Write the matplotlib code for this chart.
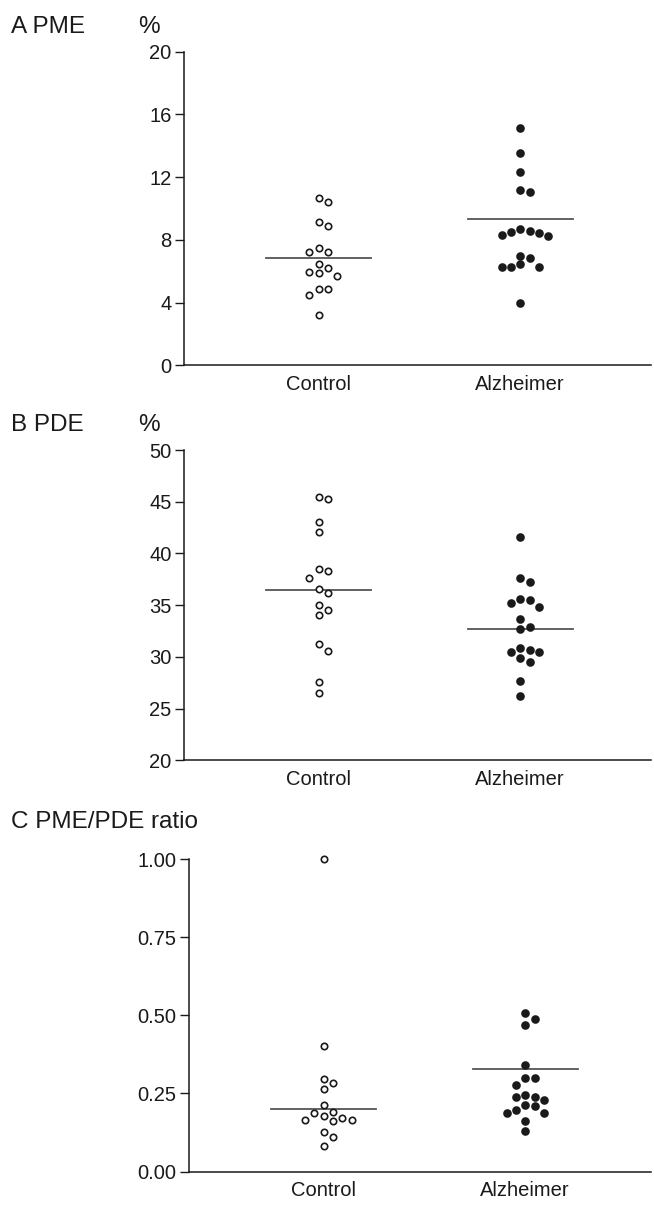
import matplotlib
import matplotlib.pyplot as plt

matplotlib.use('Agg')

plt.rcParams['font.family'] = ['Liberation Sans', 'DejaVu Sans']

groups = ["Control", "Alzheimer"]

# Panel A, PME (%)
pme_control = [10.66, 10.42, 9.17, 8.89, 7.47, 7.21, 7.21, 6.45, 6.19, 5.98,
               5.89, 5.68, 4.89, 4.89, 4.49, 3.21]
pme_alzheimer = [15.12, 13.55, 12.30, 11.21, 11.08, 8.68, 8.55, 8.49, 8.42,
                 8.34, 8.23, 7.00, 6.83, 6.45, 6.30, 6.30, 6.30, 4.00]
pme_lines = [6.85, 9.34]

# Panel B, PDE (%)
pde_control = [45.48, 45.26, 43.01, 42.10, 38.46, 38.27, 37.65, 36.56, 36.14,
               34.98, 34.56, 34.07, 31.27, 30.56, 27.6, 26.5]
pde_alzheimer = [41.59, 37.59, 37.27, 35.56, 35.46, 35.17, 34.85, 33.69, 32.92,
                 32.69, 30.82, 30.66, 30.43, 30.43, 29.85, 29.53, 27.63, 26.2]
pde_lines = [36.46, 32.69]

# Panel C, PME/PDE ratio
ratio_control = [1.00, 0.403, 0.296, 0.285, 0.263, 0.214, 0.192, 0.188, 0.178,
                 0.170, 0.165, 0.165, 0.162, 0.128, 0.112, 0.082]
ratio_alzheimer = [0.509, 0.488, 0.470, 0.340, 0.301, 0.301, 0.276, 0.246,
                   0.239, 0.239, 0.229, 0.213, 0.210, 0.197, 0.188, 0.188,
                   0.163, 0.130]
ratio_lines = [0.201, 0.3285]

W, H = 654, 1210
ink = '#1a1a1a'


def swarm_offsets(values, px_per_y, slot_px=9.3, min_gap_px=8.5):
    # greedy column placement, top value first
    order = sorted(range(len(values)), key=lambda i: -values[i])
    placed = {}
    offsets = [0] * len(values)
    for i in order:
        y = values[i] * px_per_y
        for k in [0, 1, -1, 2, -2, 3, -3]:
            if all(abs(y - other) >= min_gap_px for other in placed.get(k, [])):
                placed.setdefault(k, []).append(y)
                offsets[i] = k * slot_px
                break
    return offsets


def draw_panel(box, ylim, yticks, yticklabels, control, alzheimer, lines):
    left, bottom, right, top = box
    ax = fig.add_axes([left / W, 1 - bottom / H, (right - left) / W, (bottom - top) / H])
    px_per_x = 201.6
    x0 = 1 - 134.3 / px_per_x
    ax.set_xlim(x0, x0 + (right - left) / px_per_x)
    ax.set_ylim(*ylim)
    px_per_y = (bottom - top) / (ylim[1] - ylim[0])

    for pos, vals, filled in [(1, control, False), (2, alzheimer, True)]:
        offs = swarm_offsets(vals, px_per_y)
        xs = [pos + o / px_per_x for o in offs]
        ax.plot(xs, vals, 'o', ms=4.6 if not filled else 5.0,
                mfc=ink if filled else 'white', mec=ink, mew=1.2,
                ls='none', clip_on=False, zorder=3)
        ax.plot([pos - 0.26, pos + 0.26], [lines[pos - 1]] * 2,
                color='#555555', lw=1.3, zorder=2)

    for s in ['top', 'right']:
        ax.spines[s].set_visible(False)
    for s in ['left', 'bottom']:
        ax.spines[s].set_linewidth(1.1)
        ax.spines[s].set_color(ink)
    ax.set_yticks(yticks)
    ax.set_yticklabels(yticklabels)
    ax.set_xticks([1, 2])
    ax.set_xticklabels(groups)
    ax.tick_params(axis='y', length=6.7, width=1.0, pad=2.4, labelsize=14.5,
                   colors=ink)
    ax.tick_params(axis='x', length=0, pad=7, labelsize=14.5, colors=ink)
    return ax


fig = plt.figure(figsize=(W / 100, H / 100), dpi=100)

draw_panel((184.3, 365.3, 651, 51.7), (0, 20), [0, 4, 8, 12, 16, 20],
           ['0', '4', '8', '12', '16', '20'], pme_control, pme_alzheimer, pme_lines)
draw_panel((184.3, 760.2, 651, 450), (20, 50), [20, 25, 30, 35, 40, 45, 50],
           ['20', '25', '30', '35', '40', '45', '50'], pde_control, pde_alzheimer, pde_lines)
draw_panel((189.3, 1171.5, 651, 859.3), (0, 1), [0, 0.25, 0.5, 0.75, 1.0],
           ['0.00', '0.25', '0.50', '0.75', '1.00'], ratio_control, ratio_alzheimer, ratio_lines)

# panel titles
for label, ybase, pct in [("A PME", 33.3, True), ("B PDE", 431, True),
                          ("C PME/PDE ratio", 828, False)]:
    fig.text(11 / W, 1 - ybase / H, label, fontsize=17.5, color=ink,
             ha='left', va='baseline')
    if pct:
        fig.text(149 / W, 1 - ybase / H, "%", fontsize=17.5, color=ink,
                 ha='center', va='baseline')

fig.savefig('out.png', dpi=100, facecolor='white')
